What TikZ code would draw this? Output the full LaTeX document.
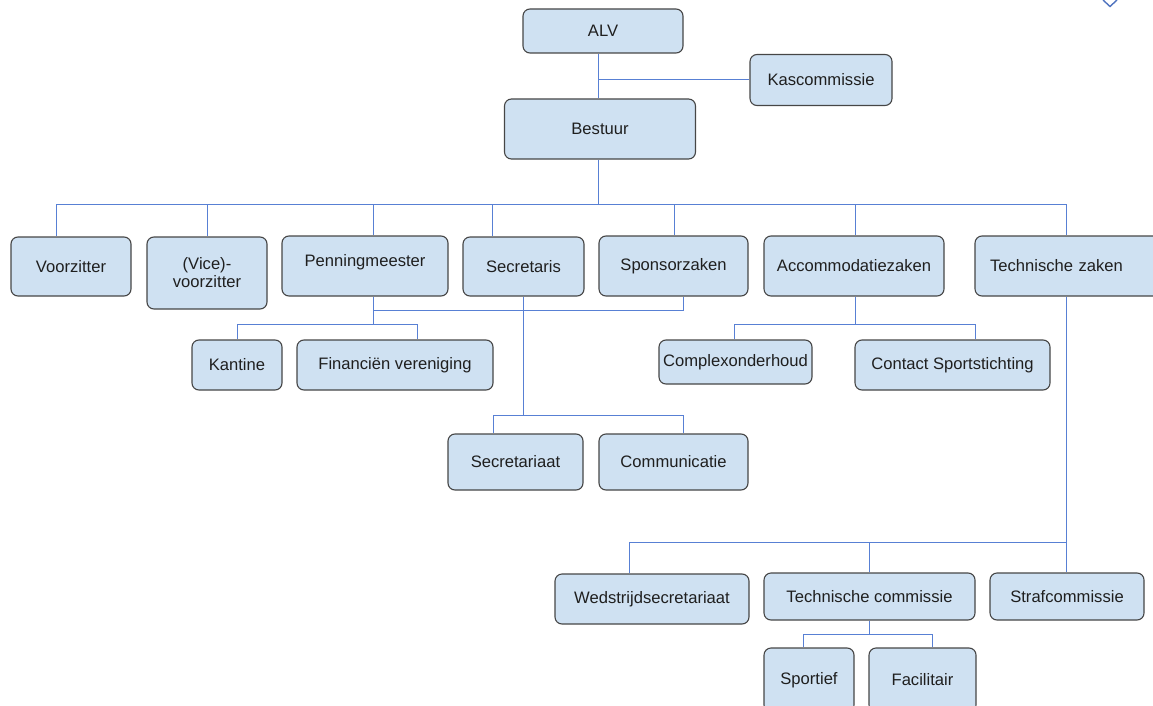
\documentclass[tikz,border=0pt]{standalone}
\usepackage{fontspec}
\setmainfont{Liberation Sans}
\definecolor{boxfill}{RGB}{207,225,242}
\definecolor{boxline}{RGB}{70,70,70}
\definecolor{connblue}{RGB}{88,128,212}
\begin{document}
\begin{tikzpicture}[x=1pt,y=-1pt,
  box/.style={draw=boxline, fill=boxfill, rounded corners=7pt, line width=1.1pt,
    font=\fontsize{16.6}{18}\selectfont, text=black!88, inner sep=0pt, align=center},
  wire/.style={draw=connblue, line width=1pt},
  sz/.style 2 args={minimum width=#1pt, minimum height=#2pt}]
\useasboundingbox (0,0) rectangle (1153,706);

% corner mark
\draw[draw=connblue!90!black, line width=1.4pt] (1103,0) -- (1110,6.5) -- (1117,0);

% nodes
\node[box, sz={160}{44}] (alv) at (603,31) {ALV};
\node[box, sz={142}{51}] (kas) at (821,80) {Kascommissie};
\node[box, sz={191}{60}] (bestuur) at (600,129) {Bestuur};

\node[box, sz={120}{59}] (voorz) at (71,266.5) {Voorzitter};
\node[box, sz={120}{72}] (vice) at (207,273) {(Vice)-\\voorzitter};
\node[box, sz={166}{60}, text height=12pt, text depth=12pt] (pen) at (365,266) {Penningmeester};
\node[box, sz={121}{59}] (sec) at (523.5,266.5) {Secretaris};
\node[box, sz={149}{60}] (spon) at (673.5,266) {Sponsorzaken};
\node[box, sz={180}{60}] (acc) at (854,266) {Accommodatiezaken};
\node[box, sz={186}{60}, text width=170pt, align=left] (tech) at (1068,266) {\hspace*{7pt}Technische zaken};

\node[box, sz={90}{50}] (kant) at (237,365) {Kantine};
\node[box, sz={196}{50}] (fin) at (395,365) {Financiën vereniging};
\node[box, sz={135}{56}] (secr) at (515.5,462) {Secretariaat};
\node[box, sz={149}{56}] (comm) at (673.5,462) {Communicatie};
\node[box, sz={153}{44}] (complex) at (735.5,362) {Complexonderhoud};
\node[box, sz={195}{50}] (contact) at (952.5,365) {Contact Sportstichting};

\node[box, sz={194}{50}] (wed) at (652,599) {Wedstrijdsecretariaat};
\node[box, sz={211}{47}] (tcom) at (869.5,596.5) {Technische commissie};
\node[box, sz={154}{47}] (straf) at (1067,596.5) {Strafcommissie};
\node[box, sz={90}{64}] (sport) at (809,680) {Sportief};
\node[box, sz={107}{64}] (fac) at (922.5,680) {Facilitair};

% connectors: top
\coordinate (j0) at (598,80);
\draw[wire] (alv.south -| j0) -- (bestuur.north -| j0);
\draw[wire] (j0) -- (kas.west);

% main bus
\coordinate (j1) at (598,204);
\coordinate (busL) at (56,204);
\coordinate (busR) at (1066,204);
\draw[wire] (bestuur.south -| j1) -- (j1);
\draw[wire] (busL) -- (busR);
\draw[wire] (busL) -- (voorz.north -| busL);
\draw[wire] (busR) -- (tech.north -| busR);
\foreach \n/\x in {vice/207, pen/373, sec/492, spon/674, acc/855}
  \draw[wire] (\x,204) -- (\n.north -| \x,0);

% penningmeester / sponsorzaken
\coordinate (p1) at (373,310);
\coordinate (p2) at (373,324);
\coordinate (s1) at (683,310);
\draw[wire] (pen.south -| p1) -- (p2);
\draw[wire] (p1) -- (s1) -- (spon.south -| s1);
\coordinate (k1) at (237,324);
\coordinate (f1) at (417,324);
\draw[wire] (k1) -- (f1);
\draw[wire] (k1) -- (kant.north);
\draw[wire] (f1) -- (fin.north -| f1);

% secretaris
\coordinate (c0) at (523,415);
\coordinate (c1) at (493,415);
\coordinate (c2) at (683,415);
\draw[wire] (sec.south -| c0) -- (c0);
\draw[wire] (c1) -- (c2);
\draw[wire] (c1) -- (secr.north -| c1);
\draw[wire] (c2) -- (comm.north -| c2);

% accommodatiezaken
\coordinate (a0) at (855,324);
\coordinate (a1) at (734,324);
\coordinate (a2) at (975,324);
\draw[wire] (acc.south -| a0) -- (a0);
\draw[wire] (a1) -- (a2);
\draw[wire] (a1) -- (complex.north -| a1);
\draw[wire] (a2) -- (contact.north -| a2);

% technische zaken
\coordinate (t0) at (1066,542);
\coordinate (t1) at (629,542);
\coordinate (t2) at (869,542);
\draw[wire] (tech.south -| t0) -- (t0);
\draw[wire] (t1) -- (t0);
\draw[wire] (t1) -- (wed.north -| t1);
\draw[wire] (t2) -- (tcom.north -| t2);
\draw[wire] (t0) -- (straf.north -| t0);

% technische commissie
\coordinate (u0) at (869,634);
\coordinate (u1) at (803,634);
\coordinate (u2) at (932,634);
\draw[wire] (tcom.south -| u0) -- (u0);
\draw[wire] (u1) -- (u2);
\draw[wire] (u1) -- (sport.north -| u1);
\draw[wire] (u2) -- (fac.north -| u2);
\end{tikzpicture}
\end{document}
